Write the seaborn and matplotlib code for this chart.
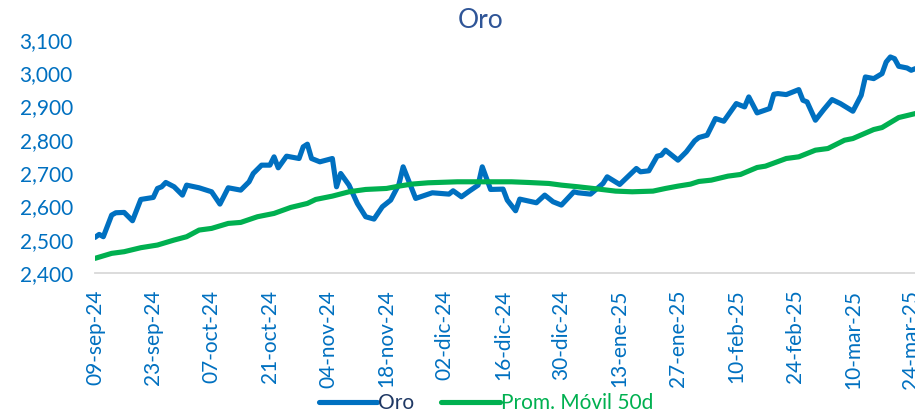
import pandas as pd
import numpy as np
import matplotlib
matplotlib.use("Agg")
import matplotlib.pyplot as plt
import seaborn as sns

# ---------------- data ----------------
titulo = "Oro"
serie_oro = "Oro"
serie_prom = "Prom. Móvil 50d"

fechas_oro = ["2024-09-09", "2024-09-10", "2024-09-11", "2024-09-13", "2024-09-14", "2024-09-16",
              "2024-09-18", "2024-09-20", "2024-09-23", "2024-09-24", "2024-09-25", "2024-09-26",
              "2024-09-28", "2024-09-30", "2024-10-01", "2024-10-04", "2024-10-07", "2024-10-09",
              "2024-10-11", "2024-10-14", "2024-10-16", "2024-10-17", "2024-10-19", "2024-10-21",
              "2024-10-22", "2024-10-23", "2024-10-25", "2024-10-28", "2024-10-29", "2024-10-30",
              "2024-10-31", "2024-11-02", "2024-11-05", "2024-11-06", "2024-11-07", "2024-11-09",
              "2024-11-11", "2024-11-13", "2024-11-15", "2024-11-17", "2024-11-19", "2024-11-21",
              "2024-11-22", "2024-11-25", "2024-11-29", "2024-12-03", "2024-12-04", "2024-12-06",
              "2024-12-08", "2024-12-10", "2024-12-11", "2024-12-13", "2024-12-16", "2024-12-17",
              "2024-12-19", "2024-12-20", "2024-12-24", "2024-12-26", "2024-12-28", "2024-12-30",
              "2025-01-02", "2025-01-03", "2025-01-06", "2025-01-09", "2025-01-10", "2025-01-13",
              "2025-01-17", "2025-01-18", "2025-01-20", "2025-01-22", "2025-01-23", "2025-01-24",
              "2025-01-27", "2025-01-29", "2025-01-31", "2025-02-01", "2025-02-03", "2025-02-05",
              "2025-02-07", "2025-02-10", "2025-02-12", "2025-02-13", "2025-02-15", "2025-02-18",
              "2025-02-19", "2025-02-20", "2025-02-22", "2025-02-25", "2025-02-26", "2025-02-27",
              "2025-03-01", "2025-03-03", "2025-03-05", "2025-03-07", "2025-03-10", "2025-03-12",
              "2025-03-13", "2025-03-15", "2025-03-17", "2025-03-18", "2025-03-19", "2025-03-20",
              "2025-03-21", "2025-03-23", "2025-03-24", "2025-03-25"]
valores_oro = [2507, 2516, 2509, 2574, 2581, 2582,
               2557, 2621, 2627, 2654, 2659, 2672,
               2659, 2634, 2664, 2656, 2644, 2607,
               2656, 2649, 2674, 2699, 2724, 2724,
               2749, 2716, 2751, 2744, 2779, 2787,
               2744, 2734, 2744, 2659, 2699, 2664,
               2609, 2569, 2562, 2599, 2619, 2667,
               2719, 2624, 2641, 2637, 2647, 2629,
               2647, 2664, 2719, 2651, 2652, 2619,
               2587, 2622, 2611, 2634, 2614, 2604,
               2644, 2641, 2637, 2669, 2689, 2666,
               2714, 2704, 2707, 2751, 2754, 2769,
               2739, 2764, 2797, 2807, 2814, 2864,
               2856, 2909, 2899, 2929, 2881, 2894,
               2937, 2939, 2936, 2951, 2919, 2914,
               2859, 2891, 2921, 2909, 2886, 2934,
               2989, 2984, 2999, 3034, 3049, 3044,
               3021, 3016, 3009, 3014]

fechas_prom = ["2024-09-09", "2024-09-13", "2024-09-16", "2024-09-20", "2024-09-24", "2024-09-28",
               "2024-10-01", "2024-10-04", "2024-10-07", "2024-10-11", "2024-10-14", "2024-10-18",
               "2024-10-22", "2024-10-26", "2024-10-30", "2024-11-01", "2024-11-05", "2024-11-09",
               "2024-11-13", "2024-11-18", "2024-11-21", "2024-11-24", "2024-11-28", "2024-12-05",
               "2024-12-11", "2024-12-18", "2024-12-22", "2024-12-27", "2024-12-30", "2025-01-03",
               "2025-01-08", "2025-01-12", "2025-01-16", "2025-01-21", "2025-01-24", "2025-01-27",
               "2025-01-30", "2025-02-01", "2025-02-04", "2025-02-08", "2025-02-11", "2025-02-15",
               "2025-02-17", "2025-02-22", "2025-02-25", "2025-03-01", "2025-03-04", "2025-03-08",
               "2025-03-10", "2025-03-15", "2025-03-17", "2025-03-21", "2025-03-25"]
valores_prom = [2444, 2459, 2464, 2476, 2484, 2499,
                2509, 2529, 2534, 2549, 2552, 2569,
                2579, 2597, 2609, 2621, 2631, 2644,
                2651, 2654, 2661, 2667, 2671, 2674,
                2674, 2674, 2672, 2669, 2664, 2659,
                2652, 2646, 2644, 2646, 2654, 2661,
                2667, 2675, 2679, 2691, 2696, 2717,
                2721, 2744, 2749, 2769, 2774, 2799,
                2804, 2831, 2837, 2867, 2879]

ticks_fechas = ["2024-09-09", "2024-09-23", "2024-10-07", "2024-10-21", "2024-11-04", "2024-11-18",
                "2024-12-02", "2024-12-16", "2024-12-30", "2025-01-13", "2025-01-27", "2025-02-10",
                "2025-02-24", "2025-03-10", "2025-03-24"]
ticks_etiquetas = ["09-sep-24", "23-sep-24", "07-oct-24", "21-oct-24", "04-nov-24", "18-nov-24",
                   "02-dic-24", "16-dic-24", "30-dic-24", "13-ene-25", "27-ene-25", "10-feb-25",
                   "24-feb-25", "10-mar-25", "24-mar-25"]
y_ticks = [2400, 2500, 2600, 2700, 2800, 2900, 3000, 3100]

# ---------------- style ----------------
sns.set_style("white")
plt.rcParams["font.family"] = ["Lato", "DejaVu Sans"]

AZUL = "#0070C0"
VERDE = "#00B050"

df_oro = pd.DataFrame({"fecha": pd.to_datetime(fechas_oro), "valor": valores_oro})
df_prom = pd.DataFrame({"fecha": pd.to_datetime(fechas_prom), "valor": valores_prom})

fig = plt.figure(figsize=(9.15, 4.13), dpi=100)
ax = fig.add_axes([95 / 915, 1 - 273 / 413, 1 - 95 / 915, (273 - 40) / 413])

sns.lineplot(data=df_oro, x="fecha", y="valor", ax=ax, color=AZUL, linewidth=3.7,
             label=serie_oro, solid_joinstyle="round", solid_capstyle="round")
sns.lineplot(data=df_prom, x="fecha", y="valor", ax=ax, color=VERDE, linewidth=3.7,
             label=serie_prom, solid_joinstyle="round", solid_capstyle="round")

ax.set_ylim(2400, 3100)
ax.set_xlim(pd.Timestamp("2024-09-09"), pd.Timestamp("2025-03-24") + pd.Timedelta(hours=22))
ax.set_yticks(y_ticks)
ax.set_yticklabels([f"{v:,}" for v in y_ticks])
ax.set_xticks(pd.to_datetime(ticks_fechas))
ax.set_xticklabels(ticks_etiquetas, rotation=90)
ax.set_xlabel("")
ax.set_ylabel("")

for s in ["left", "right", "top"]:
    ax.spines[s].set_visible(False)
ax.spines["bottom"].set_color("#D9D9D9")
ax.spines["bottom"].set_linewidth(1.3)

ax.tick_params(axis="y", length=0, pad=16, labelsize=15, labelcolor=AZUL)
ax.tick_params(axis="x", length=5, width=1.3, color="#D9D9D9", direction="out",
               pad=7, labelsize=15, labelcolor=AZUL)
for lbl in ax.get_xticklabels():
    lbl.set_clip_on(False)

fig.text(481 / 915, 1 - 21 / 413, titulo, ha="center", va="center",
         fontsize=19, color="#2F5597")

leg = ax.legend(loc="center", bbox_to_anchor=(486 / 915, 1 - 403 / 413),
                bbox_transform=fig.transFigure, ncol=2, frameon=False,
                fontsize=15, handlelength=2.8, handletextpad=0.05,
                columnspacing=1.3, borderaxespad=0, borderpad=0)
for h in leg.get_lines():
    h.set_linewidth(3.7)
cols = ["#1F3864", VERDE]
for t, c in zip(leg.get_texts(), cols):
    t.set_color(c)

fig.savefig("out.png", dpi=100)
